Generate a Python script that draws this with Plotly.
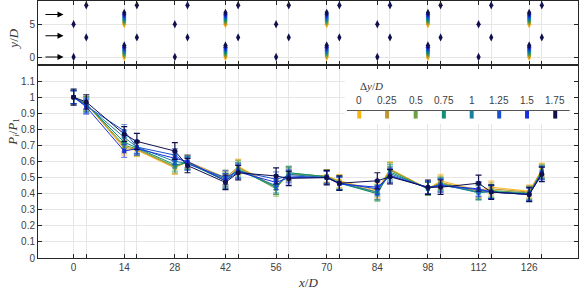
import plotly.graph_objects as go

# ---------------- data ----------------
x_pos = [0, 3.5, 14, 17.5, 28, 31.5, 42, 45.5, 56, 59.5,
         70, 73.5, 84, 87.5, 98, 101.5, 112, 115.5, 126, 129.5]
x_labels = ["0", "", "14", "", "28", "", "42", "", "56", "",
            "70", "", "84", "", "98", "", "112", "", "126", ""]

dy_values = [0, 0.25, 0.5, 0.75, 1, 1.25, 1.5, 1.75]
dy_labels = ["0", "0.25", "0.5", "0.75", "1", "1.25", "1.5", "1.75"]
colors = ["#FBB414", "#C0982F", "#6FA040", "#119078",
          "#1880A0", "#1850D0", "#1830E0", "#10104F"]
err_colors = ["rgba(251,180,20,0.6)", "rgba(192,152,47,0.6)", "rgba(111,160,64,0.6)",
              "rgba(17,144,120,0.6)", "rgba(24,128,160,0.6)", "rgba(24,80,208,0.6)",
              "rgba(24,48,224,0.6)", "#10104F"]

p_dy000 = [1.0, 0.96, 0.68, 0.67, 0.56, 0.60, 0.49, 0.57, 0.44, 0.52,
           0.51, 0.48, 0.42, 0.555, 0.43, 0.48, 0.42, 0.44, 0.415, 0.55]
p_dy025 = [1.0, 0.96, 0.69, 0.675, 0.565, 0.60, 0.50, 0.565, 0.44, 0.52,
           0.51, 0.475, 0.41, 0.55, 0.43, 0.47, 0.415, 0.43, 0.41, 0.545]
p_dy050 = [1.0, 0.96, 0.70, 0.68, 0.57, 0.595, 0.48, 0.56, 0.43, 0.53,
           0.505, 0.47, 0.40, 0.545, 0.43, 0.465, 0.41, 0.42, 0.405, 0.54]
p_dy075 = [1.0, 0.955, 0.72, 0.685, 0.58, 0.59, 0.48, 0.55, 0.44, 0.53,
           0.505, 0.465, 0.40, 0.535, 0.43, 0.46, 0.405, 0.415, 0.40, 0.535]
p_dy100 = [1.0, 0.95, 0.75, 0.69, 0.60, 0.59, 0.49, 0.545, 0.45, 0.52,
           0.50, 0.465, 0.41, 0.525, 0.435, 0.455, 0.41, 0.41, 0.40, 0.53]
p_dy125 = [1.0, 0.945, 0.79, 0.69, 0.64, 0.585, 0.50, 0.54, 0.49, 0.51,
           0.50, 0.465, 0.43, 0.515, 0.435, 0.45, 0.425, 0.41, 0.395, 0.53]
p_dy150 = [1.0, 0.94, 0.665, 0.68, 0.62, 0.60, 0.48, 0.535, 0.47, 0.50,
           0.50, 0.46, 0.44, 0.51, 0.44, 0.45, 0.43, 0.41, 0.395, 0.525]
p_dy175 = [1.0, 0.97, 0.77, 0.725, 0.665, 0.575, 0.47, 0.53, 0.51, 0.495,
           0.50, 0.465, 0.48, 0.505, 0.44, 0.44, 0.465, 0.41, 0.395, 0.52]
series = [p_dy000, p_dy025, p_dy050, p_dy075, p_dy100, p_dy125, p_dy150, p_dy175]

err_dy = [0.04, 0.045, 0.04, 0.04, 0.04, 0.04, 0.045, 0.045, 0.045, 0.04,
          0.04, 0.04, 0.045, 0.045, 0.04, 0.04, 0.045, 0.04, 0.04, 0.04]
err_ref = [0.05, 0.045, 0.047, 0.05, 0.052, 0.045, 0.045, 0.045, 0.05, 0.045,
           0.045, 0.045, 0.05, 0.045, 0.045, 0.045, 0.05, 0.045, 0.045, 0.045]

# turbine layout (top panel)
aligned_x = [0, 28, 56, 84, 112]
shifted_x = [14, 42, 70, 98, 126]
stagger_x = [3.5, 17.5, 31.5, 45.5, 59.5, 73.5, 87.5, 101.5, 115.5, 129.5]
row_y = [0, 5]
stagger_y = [3.0, 7.9]
arrow_y = [0, 3.25, 6.5]

TICK_FONT = dict(family="Liberation Sans, Arial", size=10, color="#404040")
SERIF = "Liberation Serif, Times New Roman, serif"

fig = go.Figure()

# ---------------- main panel ----------------
for i, (vals, col) in enumerate(zip(series, colors)):
    is_ref = (i == len(series) - 1)
    fig.add_trace(go.Scatter(
        x=x_pos, y=vals, mode="lines+markers",
        line=dict(color=col, width=1),
        marker=dict(color=col, size=5 if is_ref else 4,
                    symbol="circle" if is_ref else "square"),
        error_y=dict(type="data", array=err_ref if is_ref else err_dy,
                     color=err_colors[i], thickness=1.2, width=3),
        xaxis="x", yaxis="y", showlegend=False, hoverinfo="skip"))

# ---------------- top panel ----------------
for i, (dy, col) in enumerate(zip(dy_values, colors)):
    xs, ys = [], []
    for ry in row_y:
        for sx in shifted_x:
            xs.append(sx)
            ys.append(ry + dy)
    fig.add_trace(go.Scatter(
        x=xs, y=ys, mode="markers",
        marker=dict(color=col, size=6, symbol="diamond-tall", line=dict(width=0)),
        xaxis="x2", yaxis="y2", showlegend=False, hoverinfo="skip"))

fx, fy = [], []
for ry in row_y:
    for ax_ in aligned_x:
        fx.append(ax_)
        fy.append(ry)
for sy in stagger_y:
    for sx in stagger_x:
        fx.append(sx)
        fy.append(sy)
fig.add_trace(go.Scatter(
    x=fx, y=fy, mode="markers",
    marker=dict(color=colors[-1], size=6, symbol="diamond-tall", line=dict(width=0)),
    xaxis="x2", yaxis="y2", showlegend=False, hoverinfo="skip"))

annotations = []
for ay in arrow_y:
    annotations.append(dict(x=-2.8, y=ay, ax=-8.2, ay=ay, xref="x2", yref="y2",
                            axref="x2", ayref="y2", text="", showarrow=True,
                            arrowhead=2, arrowsize=1, arrowwidth=1.2,
                            arrowcolor="#000000"))

# ---------------- custom legend ----------------
leg_x = [79, 86.7, 94.6, 102.4, 110.1, 117.7, 125.4, 133.2]
shapes = [dict(type="rect", xref="x", yref="y", x0=75, x1=139.5, y0=0.835, y1=1.2,
               fillcolor="white", line=dict(width=0), layer="between")]
shapes.append(dict(type="line", xref="x", yref="y", x0=75.6, x1=137.2,
                   y0=0.917, y1=0.917, line=dict(color="#555555", width=1)))
for lx, col, lab in zip(leg_x, colors, dy_labels):
    shapes.append(dict(type="rect", xref="x", yref="y", x0=lx - 0.55, x1=lx + 0.55,
                       y0=0.867, y1=0.915, fillcolor=col, line=dict(width=0)))
    annotations.append(dict(x=lx, y=0.979, xref="x", yref="y", text=lab,
                            showarrow=False, font=TICK_FONT))
annotations.append(dict(x=82.3, y=1.072, xref="x", yref="y",
                        text="Δ<i>y</i>/<i>D</i>", showarrow=False,
                        font=dict(family=SERIF, size=11, color="#333333")))

# axis titles
annotations.append(dict(xref="paper", yref="paper", x=-0.047, y=0.49,
                        text="<i>P</i><sub><i>i</i></sub>/<i>P</i><sub>1</sub>",
                        textangle=-90, showarrow=False, xanchor="center", yanchor="middle",
                        font=dict(family=SERIF, size=13, color="#333333")))
annotations.append(dict(xref="paper", yref="paper", x=-0.047, y=0.852,
                        text="<i>y</i>/<i>D</i>", textangle=-90, showarrow=False,
                        xanchor="center", yanchor="middle",
                        font=dict(family=SERIF, size=13, color="#333333")))
annotations.append(dict(xref="paper", yref="paper", x=0.5, y=-0.06,
                        text="<i>x</i>/<i>D</i>", showarrow=False,
                        xanchor="center", yanchor="top",
                        font=dict(family=SERIF, size=13, color="#333333")))

axis_common = dict(showline=True, linecolor="#262626", linewidth=1, mirror="ticks",
                   ticks="inside", ticklen=4, tickcolor="#262626",
                   gridcolor="#E6E6E6", gridwidth=1, zeroline=False,
                   tickfont=TICK_FONT)

main_ticks = [0, 0.1, 0.2, 0.3, 0.4, 0.5, 0.6, 0.7, 0.8, 0.9, 1.0, 1.1]
main_tick_text = ["0", "0.1", "0.2", "0.3", "0.4", "0.5", "0.6", "0.7", "0.8", "0.9", "1", "1.1"]

fig.update_layout(
    width=581, height=290,
    margin=dict(l=38, r=3, t=1, b=32),
    paper_bgcolor="white", plot_bgcolor="white",
    showlegend=False,
    xaxis=dict(domain=[0, 1], range=[-9.85, 139.5], tickvals=x_pos, ticktext=x_labels,
               anchor="y", **axis_common),
    yaxis=dict(domain=[0, 0.751], range=[0, 1.2], tickvals=main_ticks,
               ticktext=main_tick_text, anchor="x", **axis_common),
    xaxis2=dict(domain=[0, 1], range=[-9.85, 139.5], tickvals=x_pos,
                showticklabels=False, anchor="y2", matches="x", **axis_common),
    yaxis2=dict(domain=[0.751, 1], range=[-1.22, 8.56], tickvals=[0, 5],
                ticktext=["0", "5"], anchor="x2", **axis_common),
    shapes=shapes,
    annotations=annotations,
)

fig.write_html("out.html", config={"displayModeBar": False},
               post_script="document.body.style.margin='0';")
